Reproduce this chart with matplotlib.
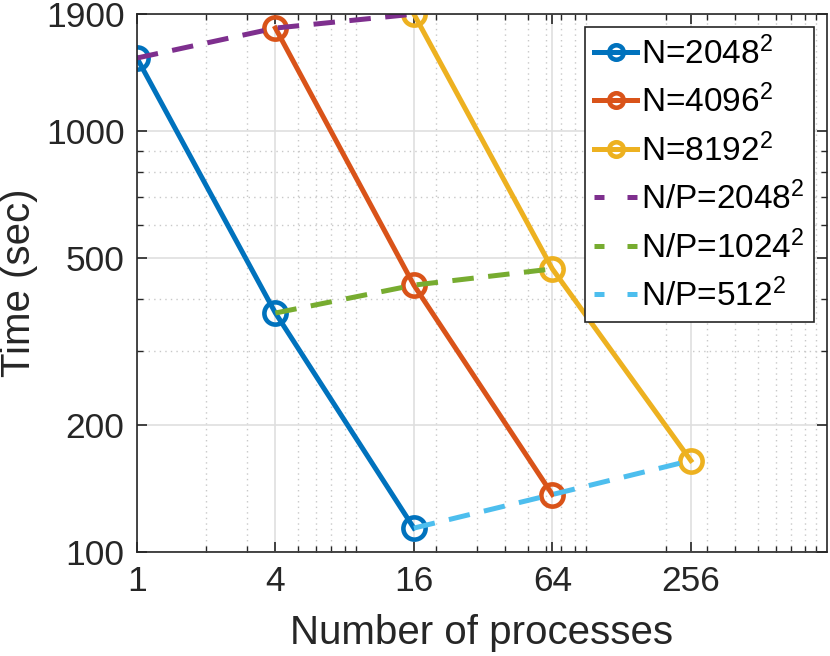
import numpy as np
import matplotlib
matplotlib.use("Agg")
import matplotlib.pyplot as plt
from matplotlib.ticker import FixedLocator, LogLocator, NullFormatter

plt.rcParams['font.family'] = ['Liberation Sans', 'DejaVu Sans']
plt.rcParams['mathtext.fontset'] = 'custom'
plt.rcParams['mathtext.rm'] = 'Liberation Sans'
plt.rcParams['mathtext.it'] = 'Liberation Sans'

# strong scaling: fixed N
p_2048 = [1, 4, 16]
t_2048 = [1494, 370, 114]
p_4096 = [4, 16, 64]
t_4096 = [1760, 431, 137]
p_8192 = [16, 64, 256]
t_8192 = [1900, 471, 165]

# weak scaling: fixed N/P
wp_2048 = [1, 4, 16]
wt_2048 = [1494, 1760, 1900]
wp_1024 = [4, 16, 64]
wt_1024 = [370, 431, 471]
wp_512 = [16, 64, 256]
wt_512 = [114, 137, 165]

xticks = [1, 4, 16, 64, 256]
yticks = [100, 200, 500, 1000, 1900]

colors = ['#0072BD', '#D95319', '#EDB120', '#7E2F8E', '#77AC30', '#4DBEEE']

fig = plt.figure(figsize=(8.3, 6.56), dpi=100)
ax = fig.add_axes([0.165, 0.1585, 0.8313, 0.820])

lw = 3.6
ms = 16
solid = [(p_2048, t_2048, r'N=$2048^2$'),
         (p_4096, t_4096, r'N=$4096^2$'),
         (p_8192, t_8192, r'N=$8192^2$')]
for (x, y, lab), c in zip(solid, colors[:3]):
    ax.plot(x, y, '-o', color=c, lw=lw, ms=ms, mfc='none', mew=3.3, label=lab)

dashed = [(wp_2048, wt_2048, r'N/P=$2048^2$'),
          (wp_1024, wt_1024, r'N/P=$1024^2$'),
          (wp_512, wt_512, r'N/P=$512^2$')]
for (x, y, lab), c in zip(dashed, colors[3:]):
    ax.plot(x, y, '--', color=c, lw=lw, dashes=(4.3, 2.9), label=lab)

ax.set_xscale('log')
ax.set_yscale('log')
ax.set_xlim(1, 1000)
ax.set_ylim(100, 1900)
ax.xaxis.set_major_locator(FixedLocator(xticks))
ax.xaxis.set_ticklabels([str(v) for v in xticks])
ax.xaxis.set_minor_locator(LogLocator(base=10, subs=np.arange(2, 10)))
ax.xaxis.set_minor_formatter(NullFormatter())
ax.yaxis.set_major_locator(FixedLocator(yticks))
ax.yaxis.set_ticklabels([str(v) for v in yticks])
ax.yaxis.set_minor_locator(LogLocator(base=10, subs=np.arange(2, 10)))
ax.yaxis.set_minor_formatter(NullFormatter())

ax.grid(True, which='major', color='#dfdfdf', lw=1.2, ls='-')
ax.grid(True, which='minor', color='#c8c8c8', lw=1.0, ls=(0, (1, 3)))
ax.set_axisbelow(True)

ax.tick_params(which='both', direction='in', colors='#262626', labelcolor='#262626',
               top=True, right=True, labelsize=25.5, pad=9)
ax.tick_params(which='major', length=7, width=1.2)
ax.tick_params(which='minor', length=4, width=1.0)
for s in ax.spines.values():
    s.set_color('#262626')
    s.set_linewidth(1.2)

ax.set_xlabel('Number of processes', fontsize=29, color='#262626', labelpad=12)
ax.set_ylabel('Time (sec)', fontsize=29, color='#262626')
ax.yaxis.set_label_coords(-0.143, 0.5)

leg = ax.legend(loc='upper right', fontsize=24, handlelength=1.3, handletextpad=0.12,
                labelspacing=0.42, borderpad=0.28, fancybox=False, framealpha=1,
                edgecolor='#262626', borderaxespad=0.38, markerscale=0.65)
leg.get_frame().set_linewidth(1.2)
# MATLAB-style legend dashes: two short dashes at the ends
for ln in leg.get_lines()[3:]:
    ln.set_dashes((2.0, 4.6))

fig.savefig('out.png', dpi=100)
